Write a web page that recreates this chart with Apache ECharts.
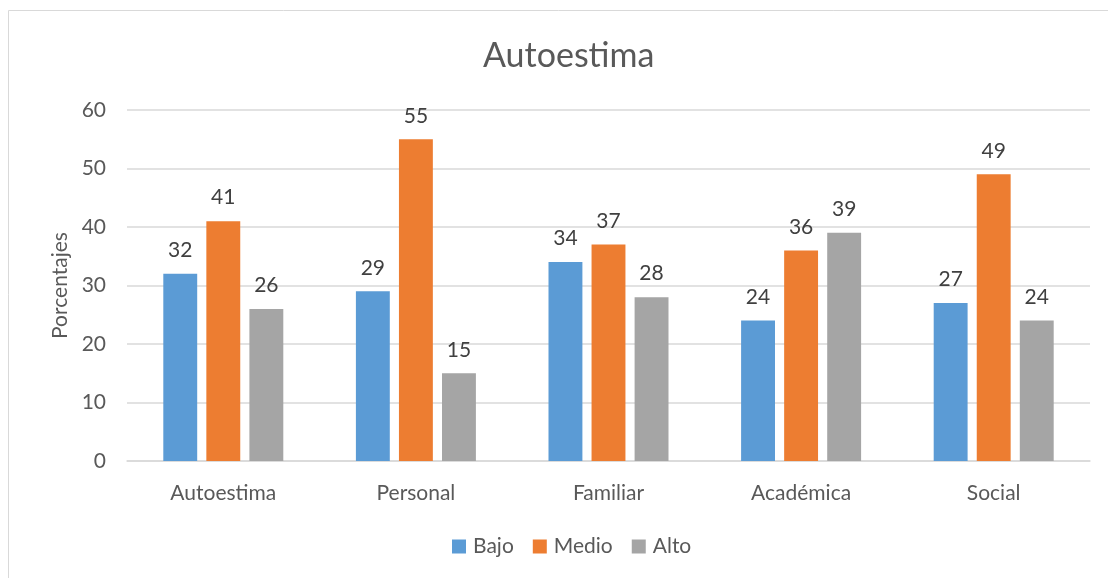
<!DOCTYPE html>
<html><head><meta charset="utf-8">
<script src="https://cdn.jsdelivr.net/npm/echarts@6/dist/echarts.min.js"></script>
<style>html,body{margin:0;padding:0;background:#fff;}#c{width:1108px;height:578px;}</style>
</head><body><div id="c"></div>
<script>
const categories = ['Autoestima', 'Personal', 'Familiar', 'Académica', 'Social'];
const seriesNames = ['Bajo', 'Medio', 'Alto'];
const bajo = [32, 29, 34, 24, 27];
const medio = [41, 55, 37, 36, 49];
const alto = [26, 15, 28, 39, 24];
const yTicks = [0, 10, 20, 30, 40, 50, 60];
const colors = ['#5B9BD5', '#ED7D31', '#A5A5A5'];
const FONT = 'Lato';
const chart = echarts.init(document.getElementById('c'));
const values = [bajo, medio, alto];
chart.setOption({
  animation: false,
  textStyle: { fontFamily: FONT },
  title: { text: 'Autoestima', left: 478, top: 34, textStyle: { fontFamily: FONT, fontSize: 34, fontWeight: 'normal', color: '#595959' } },
  graphic: [{ type: 'rect', shape: { x: 8.5, y: 10.5, width: 1200, height: 700 }, style: { fill: 'none', stroke: '#D9D9D9', lineWidth: 1 }, silent: true }],
  legend: { bottom: 16, left: 447, itemWidth: 14, itemHeight: 14, itemGap: 19, icon: 'rect', textStyle: { fontFamily: FONT, fontSize: 21, color: '#595959', padding: [0, 0, 0, 2] }, data: seriesNames },
  grid: { left: 127, right: 18, top: 110, bottom: 117 },
  xAxis: { type: 'category', data: categories, axisLine: { lineStyle: { color: '#D9D9D9', width: 1.5 } }, axisTick: { show: false }, axisLabel: { fontFamily: FONT, fontSize: 21, color: '#595959', margin: 22 } },
  yAxis: { type: 'value', min: yTicks[0], max: yTicks[yTicks.length - 1], interval: 10, name: 'Porcentajes', nameLocation: 'middle', nameGap: 56, nameTextStyle: { fontFamily: FONT, fontSize: 21, color: '#595959' }, axisLine: { show: false }, axisTick: { show: false }, axisLabel: { fontFamily: FONT, fontSize: 21, color: '#595959', margin: 21 }, splitLine: { lineStyle: { color: '#D9D9D9', width: 1.5 } } },
  series: seriesNames.map((n, i) => ({ name: n, type: 'bar', data: values[i], barWidth: '17.6%', barGap: '27%', itemStyle: { color: colors[i] }, label: { show: true, position: 'top', distance: 13, fontFamily: FONT, fontSize: 21, color: '#404040' } }))
});
</script></body></html>
